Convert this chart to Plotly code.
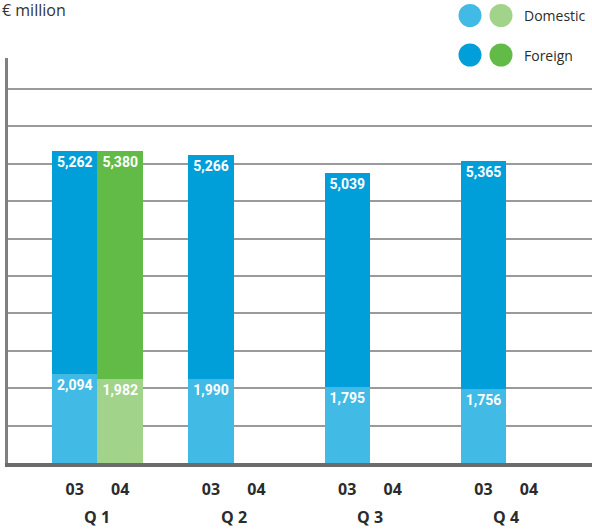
import plotly.graph_objects as go

quarters = ["Q 1", "Q 2", "Q 3", "Q 4"]
year_labels = ["03", "04"]
domestic_03 = [2094, 1990, 1795, 1756]
foreign_03 = [5262, 5266, 5039, 5365]
domestic_04 = [1982, None, None, None]
foreign_04 = [5380, None, None, None]

C_DOM_03 = "#41BAE6"
C_FOR_03 = "#009FDA"
C_DOM_04 = "#A1D38A"
C_FOR_04 = "#62BB46"

x03 = [3 * i for i in range(len(quarters))]
x04 = [3 * i + 1 for i in range(len(quarters))]

LBL_FONT = dict(family="Liberation Sans Narrow, Roboto, sans-serif", size=14, color="white")

def fmt(v):
    return "" if v is None else "<b>{:,}</b>".format(v)

fig = go.Figure()
for xs, vals, col in [(x03, domestic_03, C_DOM_03), (x03, foreign_03, C_FOR_03),
                      (x04, domestic_04, C_DOM_04), (x04, foreign_04, C_FOR_04)]:
    fig.add_trace(go.Bar(
        x=xs, y=vals, width=1, marker=dict(color=col, line=dict(width=0)),
        text=[fmt(v) for v in vals], textposition="inside", insidetextanchor="end",
        textfont=LBL_FONT, textangle=0, hoverinfo="skip", showlegend=False,
    ))

tickvals = []
ticktext = []
for a, b in zip(x03, x04):
    tickvals += [a, b]
    ticktext += ["<b>" + t + "</b>" for t in year_labels]

fig.update_layout(
    width=592, height=529,
    margin=dict(l=8, r=0, t=58, b=66),
    paper_bgcolor="white", plot_bgcolor="white",
    barmode="stack",
    uniformtext=dict(minsize=14, mode="show"),
    xaxis=dict(range=[-1.47, 11.39], tickvals=tickvals, ticktext=ticktext,
               tickfont=dict(family="Open Sans, sans-serif", size=16, color="#2b2b2b"),
               showgrid=False, zeroline=False, showline=True, linecolor="#6b6b6b",
               linewidth=4, ticks="", ticklabelstandoff=9, fixedrange=True),
    yaxis=dict(range=[0, 9549], dtick=882, showticklabels=False, showgrid=True,
               gridcolor="#9a9a9a", gridwidth=1.5, zeroline=False, showline=True,
               linecolor="#808080", linewidth=3, ticks="", fixedrange=True),
)

annotations = []
for i, q in enumerate(quarters):
    annotations.append(dict(x=x03[i] + 0.5, xref="x", y=(463 - 517) / 405, yref="paper",
                            text="<b>" + q + "</b>", showarrow=False, yanchor="middle",
                            font=dict(family="Open Sans, sans-serif", size=16, color="#2b2b2b")))
annotations.append(dict(x=-8 / 584, xref="paper", y=(463 - 10) / 405, yref="paper",
                        text="€ million", showarrow=False, xanchor="left", yanchor="middle",
                        font=dict(family="Open Sans, sans-serif", size=16, color="#333333")))

def px_x(p):
    return (p - 8) / 584

def px_y(p):
    return (463 - p) / 405

legend_rows = [("Domestic", C_DOM_03, C_DOM_04, 15.5), ("Foreign", C_FOR_03, C_FOR_04, 55)]
shapes = []
for name, c1, c2, yy in legend_rows:
    for cx, col in [(470, c1), (501, c2)]:
        shapes.append(dict(type="circle", xref="paper", yref="paper",
                           xsizemode="pixel", ysizemode="pixel",
                           xanchor=px_x(cx), yanchor=px_y(yy),
                           x0=-11.5, x1=11.5, y0=-11.5, y1=11.5,
                           fillcolor=col, line=dict(width=0)))
    annotations.append(dict(x=px_x(522), xref="paper", y=px_y(yy), yref="paper",
                            text=name, showarrow=False, xanchor="left", yanchor="middle",
                            font=dict(family="Open Sans, sans-serif", size=14, color="#2b2b2b")))

fig.update_layout(annotations=annotations, shapes=shapes)
fig.write_html("out.html", config={"displayModeBar": False},
               post_script="document.body.style.margin='0';document.body.style.overflow='hidden';")
